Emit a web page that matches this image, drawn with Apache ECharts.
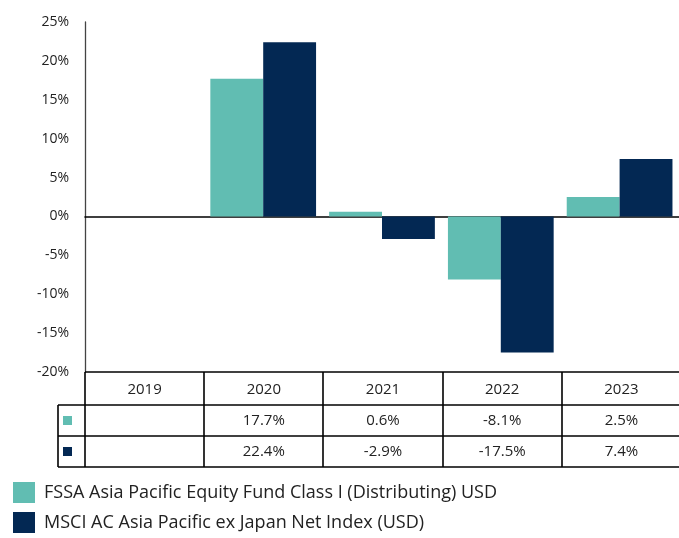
<!DOCTYPE html>
<html>
<head>
<meta charset="utf-8">
<script src="https://cdn.jsdelivr.net/npm/echarts@6/dist/echarts.min.js"></script>
<style>
	html, body { margin: 0; padding: 0; background: #fff; }
	#chart { width: 679px; height: 538px; }
</style>
</head>
<body>
<div id="chart"></div>
<script>
	// data
	var years = ['2019', '2020', '2021', '2022', '2023'];
	var fundName = 'FSSA Asia Pacific Equity Fund Class I (Distributing) USD';
	var indexName = 'MSCI AC Asia Pacific ex Japan Net Index (USD)';
	var fundValues = [null, 17.7, 0.6, -8.1, 2.5];
	var indexValues = [null, 22.4, -2.9, -17.5, 7.4];

	var tealColor = '#61bdb2';
	var navyColor = '#032853';
	var fontName = 'Open Sans';

	// layout of the grid and the table underneath
	var gridLeft = 85, gridTop = 22, gridWidth = 596, gridHeight = 350;
	var rowTops = [372, 405, 436, 467];
	var keyLeft = 58;

	var chart = echarts.init(document.getElementById('chart'));

	/** builds the table below the plot: lines, header and values */
	function buildTable() {
		let elements = [];
		let catWidth = gridWidth / years.length;
		let right = gridLeft + gridWidth;
		let line = function (x1, y1, x2, y2) {
			elements.push({
				type: 'line', shape: { x1: x1, y1: y1, x2: x2, y2: y2 },
				style: { stroke: '#000', lineWidth: 1.6 }, z: 10
			});
		};
		let text = function (str, x, y) {
			elements.push({
				type: 'text', x: x, y: y,
				style: { text: str, fill: '#222', font: '15px "' + fontName + '"', align: 'center', verticalAlign: 'middle' },
				z: 10
			});
		};
		// horizontal lines
		line(gridLeft, rowTops[0], right, rowTops[0]);
		for (let i = 1; i < rowTops.length; i++) {
			line(keyLeft, rowTops[i], right, rowTops[i]);
		}
		// vertical lines
		line(keyLeft, rowTops[1], keyLeft, rowTops[3]);
		for (let i = 0; i <= years.length; i++) {
			let x = Math.round(gridLeft + i * catWidth);
			line(x, rowTops[0], x, rowTops[3]);
		}
		// key squares
		let keys = [tealColor, navyColor];
		for (let r = 0; r < 2; r++) {
			let cy = (rowTops[r + 1] + rowTops[r + 2]) / 2;
			elements.push({
				type: 'rect', shape: { x: 63, y: cy - 4.5, width: 9, height: 9 },
				style: { fill: keys[r] }, z: 10
			});
		}
		// header and values
		let rows = [fundValues, indexValues];
		for (let i = 0; i < years.length; i++) {
			let cx = gridLeft + (i + 0.5) * catWidth;
			text(years[i], cx, (rowTops[0] + rowTops[1]) / 2 + 1);
			for (let r = 0; r < rows.length; r++) {
				let v = rows[r][i];
				if (v !== null) {
					text(v.toFixed(1) + '%', cx, (rowTops[r + 1] + rowTops[r + 2]) / 2);
				}
			}
		}
		return elements;
	}

	let legendBase = {
		left: 8,
		itemWidth: 22, itemHeight: 21,
		icon: 'rect',
		textStyle: { fontSize: 18, color: '#222', fontFamily: fontName, padding: [0, 0, 0, 4] }
	};

	chart.setOption({
		animation: false,
		textStyle: { fontFamily: fontName },
		grid: { left: gridLeft, top: gridTop, width: gridWidth, height: gridHeight, containLabel: false },
		legend: [
			Object.assign({}, legendBase, { top: 477, data: [fundName] }),
			Object.assign({}, legendBase, { top: 507, data: [indexName] })
		],
		xAxis: {
			type: 'category',
			data: years,
			axisLine: { onZero: true, lineStyle: { color: '#000', width: 1.6 } },
			axisTick: { show: false },
			axisLabel: { show: false },
			splitLine: { show: false }
		},
		yAxis: {
			type: 'value',
			min: -20, max: 25, interval: 5,
			axisLine: { show: true, lineStyle: { color: '#444', width: 1.3 } },
			axisTick: { show: false },
			splitLine: { show: false },
			axisLabel: { formatter: '{value}%', fontSize: 14, color: '#222', margin: 16 }
		},
		series: [
			{
				name: fundName, type: 'bar', data: fundValues,
				barGap: '0%', barCategoryGap: '11%',
				itemStyle: { color: tealColor }
			},
			{
				name: indexName, type: 'bar', data: indexValues,
				barGap: '0%', barCategoryGap: '11%',
				itemStyle: { color: navyColor }
			}
		],
		graphic: buildTable()
	});
</script>
</body>
</html>
